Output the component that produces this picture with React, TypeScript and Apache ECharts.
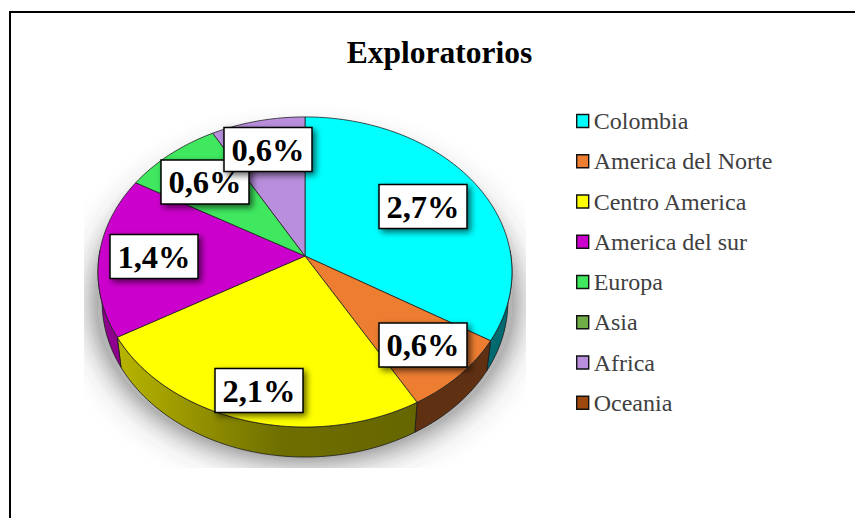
import React, { useEffect, useRef } from "react";
import * as echarts from "echarts";

const titleText = "Exploratorios";
const categories = ["Colombia", "America del Norte", "Centro America", "America del sur", "Europa", "Asia", "Africa", "Oceania"];
const values = [2.7, 0.64, 1.99, 1.34, 0.68, 0, 0.65, 0];
const valueLabels = ["2,7%", "0,6%", "2,1%", "1,4%", "0,6%", "", "0,6%", ""];
const topColors = ["#00ffff", "#ed7d31", "#ffff00", "#cc00cc", "#3fe85f", "#70ad47", "#b98fdd", "#9e480e"];
const wallColors: any[] = [
  "#006a70",
  "#5f3012",
  { type: "linear", x: 0, y: 0, x2: 1, y2: 0, colorStops: [{ offset: 0, color: "#b8b400" }, { offset: 0.55, color: "#6e6e00" }, { offset: 1, color: "#666600" }] },
  "#8f008f",
  "#1f7a33",
  "#3c6526",
  "#5f4a80",
  "#5a2a08",
];

// layout of the drawing, kept apart from the data
const APEX = { x: 305, y: 256 };
const RX = 205.9;
const RY = 153.4;
const PERSP = 0.103;
const DEPTH = 30;
const BASE_SHRINK = 0.98;
const labelCenters: ([number, number] | null)[] = [[423, 206.5], [423, 345], [259, 390.5], [154, 256.5], [205, 182], null, [268, 149.5], null];
const BOX_W = 88;
const BOX_H = 44;

const total = values.reduce((a, b) => a + b, 0);
const project = (deg: number): [number, number] => {
  const t = (deg * Math.PI) / 180;
  const u = Math.sin(t);
  const v = -Math.cos(t);
  const w = 1 - PERSP * v;
  return [APEX.x + (RX * u) / w, APEX.y + (RY * v) / w];
};
const arc = (a: number, b: number): [number, number][] => {
  const pts: [number, number][] = [];
  const n = Math.max(2, Math.ceil(Math.abs(b - a) / 1.5));
  for (let i = 0; i <= n; i++) pts.push(project(a + ((b - a) * i) / n));
  return pts;
};
const lowered = (p: [number, number]): [number, number] => [APEX.x + (p[0] - APEX.x) * BASE_SHRINK, p[1] + DEPTH];
const sweep = (i: number) => {
  const start = (values.slice(0, i).reduce((a, b) => a + b, 0) / total) * 360;
  return [start, start + (values[i] / total) * 360];
};

const sliceItem = (i: number) => () => {
  if (!values[i]) return { type: "group", children: [] };
  const [a, b] = sweep(i);
  const children: any[] = [];
  const wa = Math.max(a, 88);
  const wb = Math.min(b, 272);
  if (wb > wa) {
    const top = arc(wa, wb);
    children.push({
      type: "polygon",
      shape: { points: [...top, ...top.slice().reverse().map(lowered)] },
      style: { fill: wallColors[i], stroke: "#1a1a1a", lineWidth: 0.8 },
    });
  }
  children.push({
    type: "polygon",
    shape: { points: [[APEX.x, APEX.y], ...arc(a, b)] },
    style: { fill: topColors[i], stroke: "#222", lineWidth: 0.8 },
  });
  return { type: "group", children };
};

const shadowItem = () => {
  const pts = arc(0, 360).map((p): [number, number] => [APEX.x + (p[0] - APEX.x) * 1.0, p[1] + 30]);
  return {
    type: "group",
    children: [
      { type: "polygon", shape: { points: pts }, style: { fill: "#b4b4b4", shadowBlur: 36, shadowColor: "rgba(60,60,60,0.9)", shadowOffsetX: 0, shadowOffsetY: 0 } },
      { type: "rect", shape: { x: 20, y: 468, width: 570, height: 40 }, style: { fill: "#fff" } },
      { type: "rect", shape: { x: 20, y: 200, width: 64, height: 300 }, style: { fill: "#fff" } },
      { type: "rect", shape: { x: 526, y: 200, width: 64, height: 300 }, style: { fill: "#fff" } },
    ],
  };
};

const labelItem = (params: any) => {
  const c = labelCenters[params.dataIndex];
  const text = valueLabels[params.dataIndex];
  if (!c || !text) return { type: "group", children: [] };
  return {
    type: "group",
    children: [
      {
        type: "rect",
        shape: { x: c[0] - BOX_W / 2, y: c[1] - BOX_H / 2, width: BOX_W, height: BOX_H },
        style: { fill: "#fff", stroke: "#000", lineWidth: 1.5, shadowBlur: 6, shadowOffsetX: 3, shadowOffsetY: 3, shadowColor: "rgba(0,0,0,0.6)" },
      },
      {
        type: "text",
        x: c[0],
        y: c[1],
        style: { text, fill: "#000", font: 'bold 32.5px "Liberation Serif"', align: "center", verticalAlign: "middle" },
      },
    ],
  };
};

export default function App() {
  const ref = useRef<HTMLDivElement>(null);
  useEffect(() => {
    document.body.style.margin = "0";
    const chart = echarts.init(ref.current!, undefined, { renderer: "svg" });
    chart.setOption({
      animation: false,
      backgroundColor: "#fff",
      title: {
        text: titleText,
        left: 434.5,
        top: 31,
        textAlign: "center",
        textStyle: { fontFamily: '"Liberation Serif"', fontSize: 31.5, fontWeight: "bold", color: "#000" },
      },
      legend: {
        data: categories,
        orient: "vertical",
        left: 571,
        top: 103,
        icon: "rect",
        itemWidth: 12,
        itemHeight: 13,
        itemGap: 14.25,
        itemStyle: { borderColor: "#111", borderWidth: 1.4 },
        textStyle: { fontFamily: '"Liberation Serif"', fontSize: 24, color: "#404040", lineHeight: 26 },
        selectedMode: false,
      },
      graphic: [
        { type: "line", shape: { x1: 10, y1: 12, x2: 855, y2: 12 }, style: { stroke: "#000", lineWidth: 2 }, z: 0 },
        { type: "line", shape: { x1: 10, y1: 11, x2: 10, y2: 518 }, style: { stroke: "#000", lineWidth: 2 }, z: 0 },
      ],
      xAxis: { show: false },
      yAxis: { show: false },
      series: [
        { type: "custom", coordinateSystem: "none", silent: true, z: 1, data: [0], renderItem: shadowItem },
        ...categories.map((name, i) => ({
          type: "custom",
          name,
          coordinateSystem: "none",
          silent: true,
          z: 2,
          data: [values[i]],
          itemStyle: { color: topColors[i] },
          renderItem: sliceItem(i),
        })),
        { type: "custom", coordinateSystem: "none", silent: true, z: 3, data: values, renderItem: labelItem },
      ],
    });
    return () => chart.dispose();
  }, []);
  return <div ref={ref} style={{ width: 855, height: 518 }} />;
}
